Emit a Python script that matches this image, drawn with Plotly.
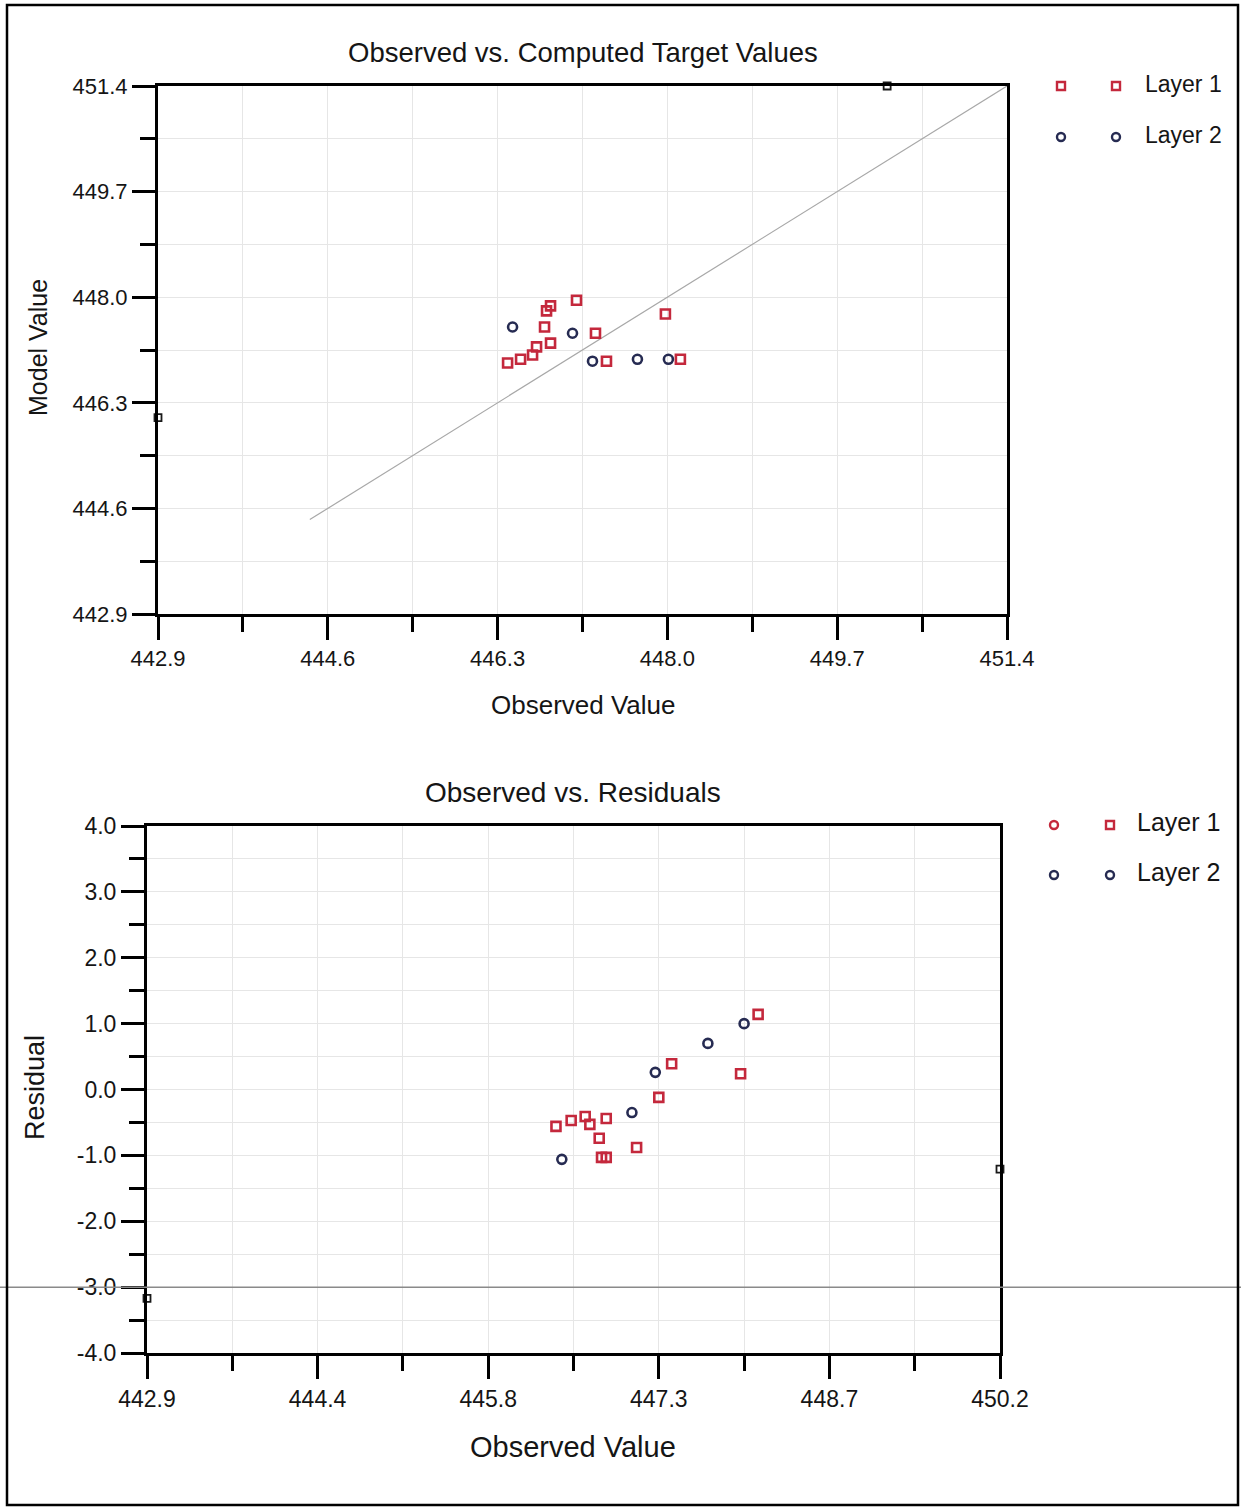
import plotly.graph_objects as go

W, H = 1241, 1507

# ---------------- data ----------------
layer1_obs = [446.40, 446.53, 446.65, 446.69, 446.83, 446.77, 446.79, 446.83, 447.09, 447.28, 447.98, 447.39, 448.13]
layer1_model = [446.94, 447.00, 447.07, 447.20, 447.26, 447.52, 447.78, 447.86, 447.95, 447.42, 447.73, 446.97, 447.00]
layer1_resid = [-0.56, -0.47, -0.41, -0.53, -0.44, -0.74, -1.03, -1.03, -0.88, -0.12, 0.24, 0.39, 1.14]

layer2_obs = [446.45, 447.05, 447.25, 447.70, 448.01]
layer2_model = [447.52, 447.42, 446.97, 447.00, 447.00]
layer2_resid = [-1.06, -0.35, 0.26, 0.70, 1.00]

other_obs = [450.20, 442.90]
other_model = [451.40, 446.06]
other_resid = [-1.21, -3.17]

one_to_one = [444.42, 451.40]

top_ticks = [442.9, 444.6, 446.3, 448.0, 449.7, 451.4]
top_ticklabels = ["442.9", "444.6", "446.3", "448.0", "449.7", "451.4"]
bot_xticks = [442.9, 444.36, 445.82, 447.28, 448.74, 450.2]
bot_xticklabels = ["442.9", "444.4", "445.8", "447.3", "448.7", "450.2"]
bot_yticks = [-4, -3, -2, -1, 0, 1, 2, 3, 4]
bot_yticklabels = ["-4.0", "-3.0", "-2.0", "-1.0", "0.0", "1.0", "2.0", "3.0", "4.0"]

# ---------------- styling ----------------
RED = "#c4283c"
NAVY = "#262b52"
BLACK = "#1a1a1a"
FONT = "Liberation Sans"
TXT = "#151515"


def px(x):
    return x / W


def py(y):
    return 1 - y / H


fig = go.Figure()

mk = dict(size=9, line=dict(width=2.6))

# top plot
fig.add_trace(go.Scatter(x=one_to_one, y=one_to_one, mode="lines",
                         line=dict(color="#a8a8a8", width=1.2),
                         xaxis="x", yaxis="y", showlegend=False, hoverinfo="skip"))
fig.add_trace(go.Scatter(x=layer1_obs, y=layer1_model, mode="markers", name="Layer 1",
                         marker=dict(symbol="square-open", color=RED, **mk),
                         xaxis="x", yaxis="y", cliponaxis=False, showlegend=False))
fig.add_trace(go.Scatter(x=layer2_obs, y=layer2_model, mode="markers", name="Layer 2",
                         marker=dict(symbol="circle-open", color=NAVY, **mk),
                         xaxis="x", yaxis="y", cliponaxis=False, showlegend=False))
fig.add_trace(go.Scatter(x=other_obs, y=other_model, mode="markers",
                         marker=dict(symbol="square-open", color=BLACK, size=7, line=dict(width=1.8)),
                         xaxis="x", yaxis="y", cliponaxis=False, showlegend=False))

# bottom plot
fig.add_trace(go.Scatter(x=layer1_obs, y=layer1_resid, mode="markers", name="Layer 1",
                         marker=dict(symbol="square-open", color=RED, **mk),
                         xaxis="x2", yaxis="y2", cliponaxis=False, showlegend=False))
fig.add_trace(go.Scatter(x=layer2_obs, y=layer2_resid, mode="markers", name="Layer 2",
                         marker=dict(symbol="circle-open", color=NAVY, **mk),
                         xaxis="x2", yaxis="y2", cliponaxis=False, showlegend=False))
fig.add_trace(go.Scatter(x=other_obs, y=other_resid, mode="markers",
                         marker=dict(symbol="square-open", color=BLACK, size=7, line=dict(width=1.8)),
                         xaxis="x2", yaxis="y2", cliponaxis=False, showlegend=False))

axis_common = dict(
    showline=True, linecolor="black", linewidth=3, mirror=True,
    ticks="outside", ticklen=23, tickwidth=2.5, tickcolor="black",
    showgrid=True, gridcolor="#e6e6e6", gridwidth=1, zeroline=False,
    automargin=False,
)
minor_common = dict(ticklen=15, tickwidth=2.5, tickcolor="black", showgrid=True,
                    gridcolor="#e6e6e6", gridwidth=1)
top_font = dict(family=FONT, size=22, color=TXT)
bot_font = dict(family=FONT, size=23, color=TXT)

fig.update_layout(
    width=W, height=H,
    margin=dict(l=0, r=0, t=0, b=0, pad=0, autoexpand=False),
    paper_bgcolor="white", plot_bgcolor="white",
    showlegend=False,
    xaxis=dict(domain=[px(158), px(1007)], range=[442.9, 451.4], anchor="y",
               tickvals=top_ticks, ticktext=top_ticklabels, ticklabelstandoff=0,
               minor=dict(tickvals=[443.75, 445.45, 447.15, 448.85, 450.55], **minor_common),
               tickfont=top_font, **axis_common),
    yaxis=dict(domain=[py(614), py(86)], range=[442.9, 451.4], anchor="x",
               tickvals=top_ticks, ticktext=top_ticklabels,
               minor=dict(tickvals=[443.75, 445.45, 447.15, 448.85, 450.55], **minor_common),
               tickfont=top_font, **axis_common),
    xaxis2=dict(domain=[px(147), px(1000)], range=[442.9, 450.2], anchor="y2",
                tickvals=bot_xticks, ticktext=bot_xticklabels, ticklabelstandoff=0,
                minor=dict(tickvals=[443.63, 445.09, 446.55, 448.01, 449.47], **minor_common),
                tickfont=bot_font, **axis_common),
    yaxis2=dict(domain=[py(1353), py(826)], range=[-4, 4], anchor="x2",
                tickvals=bot_yticks, ticktext=bot_yticklabels,
                minor=dict(tickvals=[-3.5, -2.5, -1.5, -0.5, 0.5, 1.5, 2.5, 3.5], **minor_common),
                tickfont=bot_font, **axis_common),
)

# titles and axis titles
ann = []


def text(x, y, s, size, angle=0, xanchor="center"):
    ann.append(dict(x=px(x), y=py(y), xref="paper", yref="paper", text=s, showarrow=False,
                    xanchor=xanchor, yanchor="middle", textangle=angle,
                    font=dict(family=FONT, size=size, color=TXT)))


text(583, 52, "Observed vs. Computed Target Values", 27.5)
text(583, 705, "Observed Value", 26)
text(38, 348, "Model Value", 25, angle=-90)
text(573, 792, "Observed vs. Residuals", 28)
text(573, 1447, "Observed Value", 29)
text(35, 1088, "Residual", 27, angle=-90)

# custom legends (two symbols per entry, old-style)
shapes = []


def sq(cx, cy, color, s=4):
    shapes.append(dict(type="rect", xref="paper", yref="paper",
                       x0=px(cx - s), x1=px(cx + s), y0=py(cy + s), y1=py(cy - s),
                       line=dict(color=color, width=2.4), fillcolor="white"))


def circ(cx, cy, color, s=4):
    shapes.append(dict(type="circle", xref="paper", yref="paper",
                       x0=px(cx - s), x1=px(cx + s), y0=py(cy + s), y1=py(cy - s),
                       line=dict(color=color, width=2.4), fillcolor="white"))


sq(1061, 86, RED); sq(1116, 86, RED)
text(1143, 84, "Layer 1", 23, xanchor="left")
circ(1061, 137, NAVY); circ(1116, 137, NAVY)
text(1143, 135, "Layer 2", 23, xanchor="left")

circ(1054, 825, RED); sq(1110, 825, RED)
text(1135, 822, "Layer 1", 25, xanchor="left")
circ(1054, 875, NAVY); circ(1110, 875, NAVY)
text(1135, 872, "Layer 2", 25, xanchor="left")

# horizontal scan line across the lower chart at -3.0
shapes.append(dict(type="line", xref="paper", yref="y2", x0=0, x1=1, y0=-3.0, y1=-3.0,
                   line=dict(color="#8a8a8a", width=1.5)))
# outer frame of the picture
shapes.append(dict(type="rect", xref="paper", yref="paper",
                   x0=px(7), x1=px(1238), y0=py(1505), y1=py(5),
                   line=dict(color="black", width=2.5)))

fig.update_layout(annotations=ann, shapes=shapes)

fig.write_html("out.html")
